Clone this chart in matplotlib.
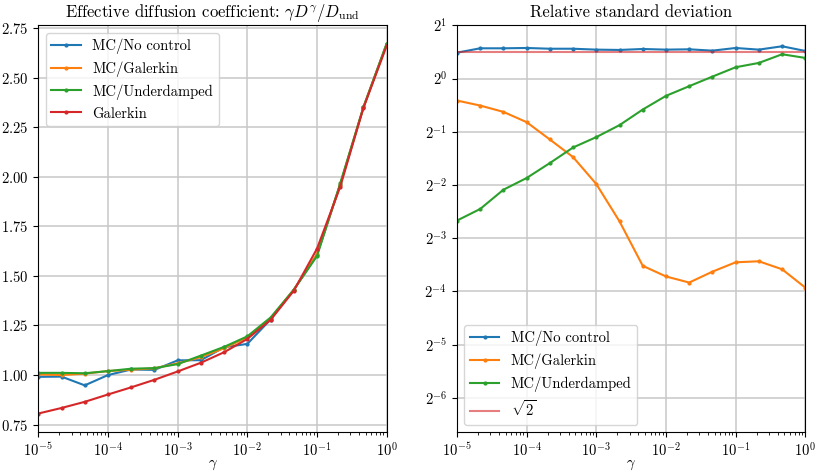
import numpy as np
import matplotlib
matplotlib.use("Agg")
import matplotlib.pyplot as plt

plt.rcParams["font.family"] = "serif"
plt.rcParams["font.serif"] = ["cmr10"]
plt.rcParams["mathtext.fontset"] = "cm"
plt.rcParams["axes.formatter.use_mathtext"] = True
plt.rcParams["font.size"] = 10.5
plt.rcParams["grid.color"] = "#c8c8c8"
plt.rcParams["grid.linewidth"] = 1.1

# -------------------------
# Data
# -------------------------

gammas = [1e-5, 2.154e-5, 4.642e-5, 1e-4, 2.154e-4, 4.642e-4,
          1e-3, 2.154e-3, 4.642e-3, 1e-2, 2.154e-2, 4.642e-2,
          1e-1, 2.154e-1, 4.642e-1, 1.0]

# effective diffusion coefficient
d_nocontrol = [0.991, 0.992, 0.948, 1.000, 1.028, 1.026, 1.074, 1.075,
               1.140, 1.157, 1.280, 1.430, 1.605, 1.960, 2.350, 2.670]
d_mc_galerkin = [1.003, 1.000, 1.007, 1.020, 1.027, 1.034, 1.059, 1.090,
                 1.135, 1.190, 1.285, 1.430, 1.610, 1.960, 2.350, 2.670]
d_underdamped = [1.011, 1.011, 1.009, 1.020, 1.032, 1.035, 1.055, 1.098,
                 1.142, 1.195, 1.290, 1.430, 1.600, 1.966, 2.350, 2.670]
d_galerkin = [0.806, 0.834, 0.865, 0.902, 0.938, 0.976, 1.018, 1.062,
              1.115, 1.182, 1.278, 1.425, 1.637, 1.949, 2.347, 2.660]

# relative standard deviation (log2 values)
log2_std_nocontrol = [0.486, 0.568, 0.568, 0.574, 0.560, 0.560, 0.543, 0.537,
                      0.555, 0.543, 0.549, 0.524, 0.574, 0.543, 0.606, 0.518]
log2_std_mc_galerkin = [-0.414, -0.508, -0.627, -0.820, -1.146, -1.477, -1.983, -2.685,
                        -3.520, -3.720, -3.835, -3.630, -3.454, -3.435, -3.585, -3.930]
log2_std_underdamped = [-2.670, -2.452, -2.090, -1.870, -1.589, -1.296, -1.101, -0.876,
                        -0.583, -0.326, -0.144, 0.036, 0.212, 0.293, 0.456, 0.387]

std_nocontrol = 2.0 ** np.array(log2_std_nocontrol)
std_mc_galerkin = 2.0 ** np.array(log2_std_mc_galerkin)
std_underdamped = 2.0 ** np.array(log2_std_underdamped)

# -------------------------
# Plot
# -------------------------

fig, (ax1, ax2) = plt.subplots(1, 2, figsize=(8.22, 4.75), dpi=100)
fig.subplots_adjust(left=0.0466, right=0.9797, top=0.9467, bottom=0.0905, wspace=0.2018)

ms = 4
ax1.semilogx(gammas, d_nocontrol, ".-", ms=ms, label="MC/No control")
ax1.semilogx(gammas, d_mc_galerkin, ".-", ms=ms, label="MC/Galerkin")
ax1.semilogx(gammas, d_underdamped, ".-", ms=ms, label="MC/Underdamped")
ax1.semilogx(gammas, d_galerkin, ".-", ms=ms, label="Galerkin")
ax1.set_xlim(1e-5, 1)
ax1.set_xlabel(r"$\gamma$", labelpad=-1)
ax1.set_title(r"Effective diffusion coefficient: $\gamma D^\gamma / D_{\rm und}$", fontsize=12)
ax1.grid(True)
ax1.legend(loc="upper left")

ax2.loglog(gammas, std_nocontrol, ".-", ms=ms, label="MC/No control", base=2)
ax2.loglog(gammas, std_mc_galerkin, ".-", ms=ms, label="MC/Galerkin", base=2)
ax2.loglog(gammas, std_underdamped, ".-", ms=ms, label="MC/Underdamped", base=2)
ax2.axhline(np.sqrt(2), color="C3", alpha=0.6, label=r"$\sqrt{2}$")
ax2.set_xscale("log", base=10)
ax2.set_xlim(1e-5, 1)
ax2.set_ylim(1e-2, 2)
ax2.set_xlabel(r"$\gamma$", labelpad=-1)
ax2.set_title("Relative standard deviation", fontsize=12)
ax2.grid(True)
ax2.legend(loc="lower left")

fig.savefig("out.png", dpi=100)
